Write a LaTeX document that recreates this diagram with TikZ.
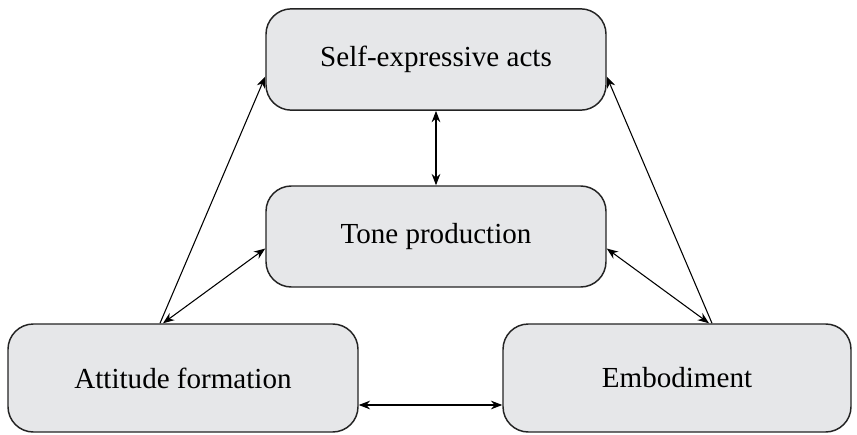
\documentclass[tikz,border=0pt]{standalone}
\usepackage{fontspec}
\setmainfont{Liberation Serif}
\usetikzlibrary{arrows.meta,calc}

\tikzset{every picture/.style={line width=0.75pt}}

\begin{document}
\begin{tikzpicture}[x=0.75pt,y=0.75pt,yscale=-1,xscale=1,
	box/.style={draw={rgb, 255:red, 35; green, 35; blue, 35 },line width=1.1pt,fill={rgb, 255:red, 230; green, 231; blue, 233 },rounded corners=19pt,inner sep=0pt,minimum width=255pt,minimum height=76pt,font=\fontsize{21.8}{26}\selectfont},
	link/.style={line width=0.8pt,{Stealth[length=8.5pt,width=6.5pt]}-{Stealth[length=8.5pt,width=6.5pt]}},
	single/.style={line width=0.8pt,-{Stealth[length=8.5pt,width=6.5pt]}}]
	%set diagram to the size of the reference
	\useasboundingbox (0,0) rectangle (857,435);
	
	%Boxes
	\node [box] (selfexp) at (436,59.5) {Self-expressive acts};
	\node [box,minimum height=75.75pt] (tone) at (436,236.5) {Tone production};
	\node [box,minimum width=262.5pt,minimum height=81pt] (attitude) at (183,378) {Attitude formation};
	\node [box,minimum width=261pt,minimum height=81pt] (embodiment) at (677,378) {Embodiment};
	
	%Straight Lines
	\draw [link] (selfexp.south) -- (tone.north) ;
	\draw [single] ($(attitude.north)+(-23,0)$) -- ($(selfexp.west)+(0,17)$) ;
	\draw [single] ($(embodiment.north)+(35,0)$) -- ($(selfexp.east)+(0,17)$) ;
	\draw [link] ($(tone.west)+(0,12)$) -- ($(attitude.north)+(-20,0)$) ;
	\draw [link] ($(tone.east)+(0,12)$) -- ($(embodiment.north)+(32,0)$) ;
	\draw [link] ($(attitude.east)+(0,27)$) -- ($(embodiment.west)+(0,27)$) ;
	
\end{tikzpicture}
\end{document}
